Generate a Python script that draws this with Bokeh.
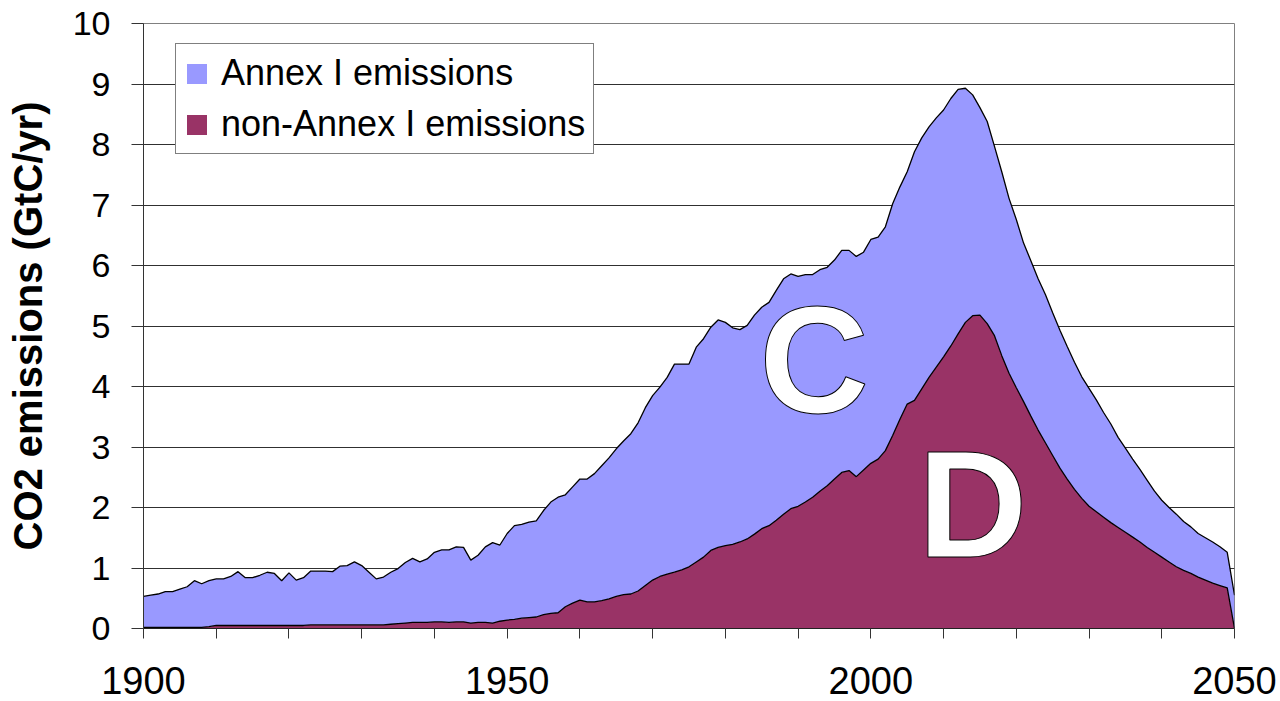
from bokeh.plotting import figure
from bokeh.models import (ColumnDataSource, FixedTicker, Legend, LegendItem, Range1d)
from bokeh.embed import file_html
from bokeh.resources import INLINE
from bokeh.core.properties import value

years = list(range(1900, 2051))

non_annex_i = [
    0.02, 0.02, 0.02, 0.02, 0.02, 0.02, 0.02, 0.02, 0.02, 0.03,   # 1900-1909
    0.05, 0.05, 0.05, 0.05, 0.05, 0.05, 0.05, 0.05, 0.05, 0.05,   # 1910-1919
    0.05, 0.05, 0.05, 0.06, 0.06, 0.06, 0.06, 0.06, 0.06, 0.06,   # 1920-1929
    0.06, 0.06, 0.06, 0.06, 0.07, 0.08, 0.09, 0.10, 0.10, 0.10,   # 1930-1939
    0.11, 0.11, 0.10, 0.11, 0.11, 0.09, 0.10, 0.10, 0.09, 0.12,   # 1940-1949
    0.14, 0.15, 0.17, 0.18, 0.19, 0.23, 0.25, 0.26, 0.36, 0.42,   # 1950-1959
    0.47, 0.44, 0.44, 0.46, 0.49, 0.53, 0.56, 0.57, 0.62, 0.71,   # 1960-1969
    0.80, 0.86, 0.90, 0.93, 0.97, 1.02, 1.10, 1.18, 1.29, 1.34,   # 1970-1979
    1.37, 1.39, 1.43, 1.48, 1.56, 1.65, 1.70, 1.79, 1.89, 1.98,   # 1980-1989
    2.02, 2.09, 2.17, 2.27, 2.36, 2.47, 2.58, 2.61, 2.51, 2.62,   # 1990-1999
    2.73, 2.80, 2.94, 3.19, 3.46, 3.71, 3.77, 3.96, 4.15, 4.32,   # 2000-2009
    4.49, 4.67, 4.87, 5.06, 5.17, 5.18, 5.04, 4.84, 4.51, 4.22,   # 2010-2019
    3.98, 3.75, 3.51, 3.28, 3.07, 2.86, 2.65, 2.47, 2.30, 2.15,   # 2020-2029
    2.02, 1.93, 1.84, 1.75, 1.67, 1.59, 1.51, 1.43, 1.34, 1.26,   # 2030-2039
    1.18, 1.10, 1.02, 0.96, 0.91, 0.85, 0.80, 0.75, 0.71, 0.67,   # 2040-2049
    0.00,                                                         # 2050
]

annex_i = [
    0.51, 0.53, 0.55, 0.59, 0.59, 0.63, 0.67, 0.77, 0.72, 0.76,   # 1900-1909
    0.77, 0.77, 0.81, 0.89, 0.79, 0.79, 0.83, 0.88, 0.86, 0.74,   # 1910-1919
    0.87, 0.75, 0.79, 0.89, 0.89, 0.89, 0.88, 0.97, 0.98, 1.04,   # 1920-1929
    0.98, 0.87, 0.76, 0.79, 0.86, 0.91, 1.00, 1.06, 1.00, 1.05,   # 1930-1939
    1.15, 1.19, 1.20, 1.24, 1.23, 1.04, 1.11, 1.25, 1.33, 1.26,   # 1940-1949
    1.43, 1.55, 1.55, 1.58, 1.59, 1.72, 1.84, 1.91, 1.85, 1.92,   # 1950-1959
    2.00, 2.03, 2.12, 2.23, 2.33, 2.44, 2.54, 2.65, 2.78, 2.94,   # 1960-1969
    3.05, 3.13, 3.25, 3.44, 3.40, 3.35, 3.55, 3.61, 3.69, 3.76,   # 1970-1979
    3.69, 3.58, 3.51, 3.53, 3.62, 3.66, 3.69, 3.80, 3.89, 3.88,   # 1980-1989
    3.80, 3.76, 3.68, 3.66, 3.61, 3.62, 3.67, 3.64, 3.64, 3.60,   # 1990-1999
    3.70, 3.67, 3.70, 3.83, 3.84, 3.84, 4.11, 4.15, 4.14, 4.12,   # 2000-2009
    4.08, 4.09, 4.04, 3.87, 3.65, 3.43, 3.34, 3.13, 3.04, 2.89,   # 2010-2019
    2.78, 2.62, 2.57, 2.50, 2.45, 2.36, 2.28, 2.19, 2.10, 2.01,   # 2020-2029
    1.95, 1.85, 1.73, 1.63, 1.49, 1.39, 1.29, 1.20, 1.11, 1.01,   # 2030-2039
    0.94, 0.90, 0.87, 0.81, 0.77, 0.72, 0.70, 0.68, 0.64, 0.59,   # 2040-2049
    0.55,                                                         # 2050
]

series_names = ["non_annex_i", "annex_i"]
legend_labels = ["Annex I emissions", "non-Annex I emissions"]
x_tick_labels = [1900, 1950, 2000, 2050]
x_minor_ticks = [1910, 1920, 1930, 1940, 1960, 1970, 1980, 1990,
                 2010, 2020, 2030, 2040]
y_ticks = list(range(0, 11))

area_labels = ["C", "D"]
area_label_x = [1992.2, 2014.0]
area_label_y = [4.43, 2.06]

BLUE = "#9999FF"
MAROON = "#993366"
FONT = "Liberation Sans"

source = ColumnDataSource(dict(year=years, non_annex_i=non_annex_i, annex_i=annex_i))

p = figure(width=1280, height=701, output_backend="svg", toolbar_location=None,
           x_range=Range1d(1900, 2050), y_range=Range1d(0, 10),
           min_border_left=143, min_border_right=46, min_border_top=23,
           min_border_bottom=73)
p.background_fill_color = "white"
p.border_fill_color = "white"
p.outline_line_color = "#808080"
p.outline_line_width = 1

# stacked areas
areas = p.varea_stack(series_names, x="year", color=[MAROON, BLUE], source=source)
p.vline_stack(series_names, x="year", color="black", line_width=1.3, source=source)

# area letters
lab_src = ColumnDataSource(dict(x=area_label_x, y=area_label_y, t=area_labels))
p.text(x="x", y="y", text="t", source=lab_src, text_color="white",
       text_outline_color="black",
       text_font=value(FONT), text_font_style="bold", text_font_size="152px",
       text_align="center", text_baseline="alphabetic")

legend = Legend(items=[LegendItem(label=legend_labels[0], renderers=[areas[1]]),
                       LegendItem(label=legend_labels[1], renderers=[areas[0]])],
                location=(32, 605 - 24 - 107))
legend.label_text_font = FONT
legend.label_text_font_size = "36px"
legend.label_text_color = "black"
legend.glyph_width = 25
legend.glyph_height = 25
legend.label_height = 42
legend.label_standoff = 12
legend.spacing = 9
legend.padding = 8
legend.margin = 0
legend.border_line_color = "black"
legend.border_line_width = 1
legend.background_fill_color = "white"
legend.background_fill_alpha = 1.0
p.add_layout(legend)

# x axis
p.xaxis.ticker = FixedTicker(ticks=x_tick_labels, minor_ticks=x_minor_ticks)
p.xaxis.major_label_text_font = FONT
p.xaxis.major_label_text_font_size = "38px"
p.xaxis.major_label_text_color = "black"
p.xaxis.major_tick_in = 0
p.xaxis.major_tick_out = 10
p.xaxis.minor_tick_in = 0
p.xaxis.minor_tick_out = 10
p.xaxis.major_tick_line_color = "#333333"
p.xaxis.minor_tick_line_color = "#333333"
p.xaxis.axis_line_color = "#222222"
p.xaxis.major_label_standoff = 28
p.xgrid.grid_line_color = None

# y axis
p.yaxis.ticker = FixedTicker(ticks=y_ticks)
p.yaxis.major_label_text_font = FONT
p.yaxis.major_label_text_font_size = "34px"
p.yaxis.major_label_text_color = "black"
p.yaxis.major_tick_in = 0
p.yaxis.major_tick_out = 12
p.yaxis.minor_tick_line_color = None
p.yaxis.major_tick_line_color = "#333333"
p.yaxis.axis_line_color = "#333333"
p.yaxis.major_label_standoff = 21
p.yaxis.axis_label = "CO2 emissions (GtC/yr)"
p.yaxis.axis_label_text_font = FONT
p.yaxis.axis_label_text_font_size = "40px"
p.yaxis.axis_label_text_font_style = "bold"
p.yaxis.axis_label_text_color = "black"
p.yaxis.axis_label_standoff = 20
p.ygrid.grid_line_color = "#303030"
p.ygrid.grid_line_width = 1

open("out.html", "w").write(file_html(p, INLINE))
